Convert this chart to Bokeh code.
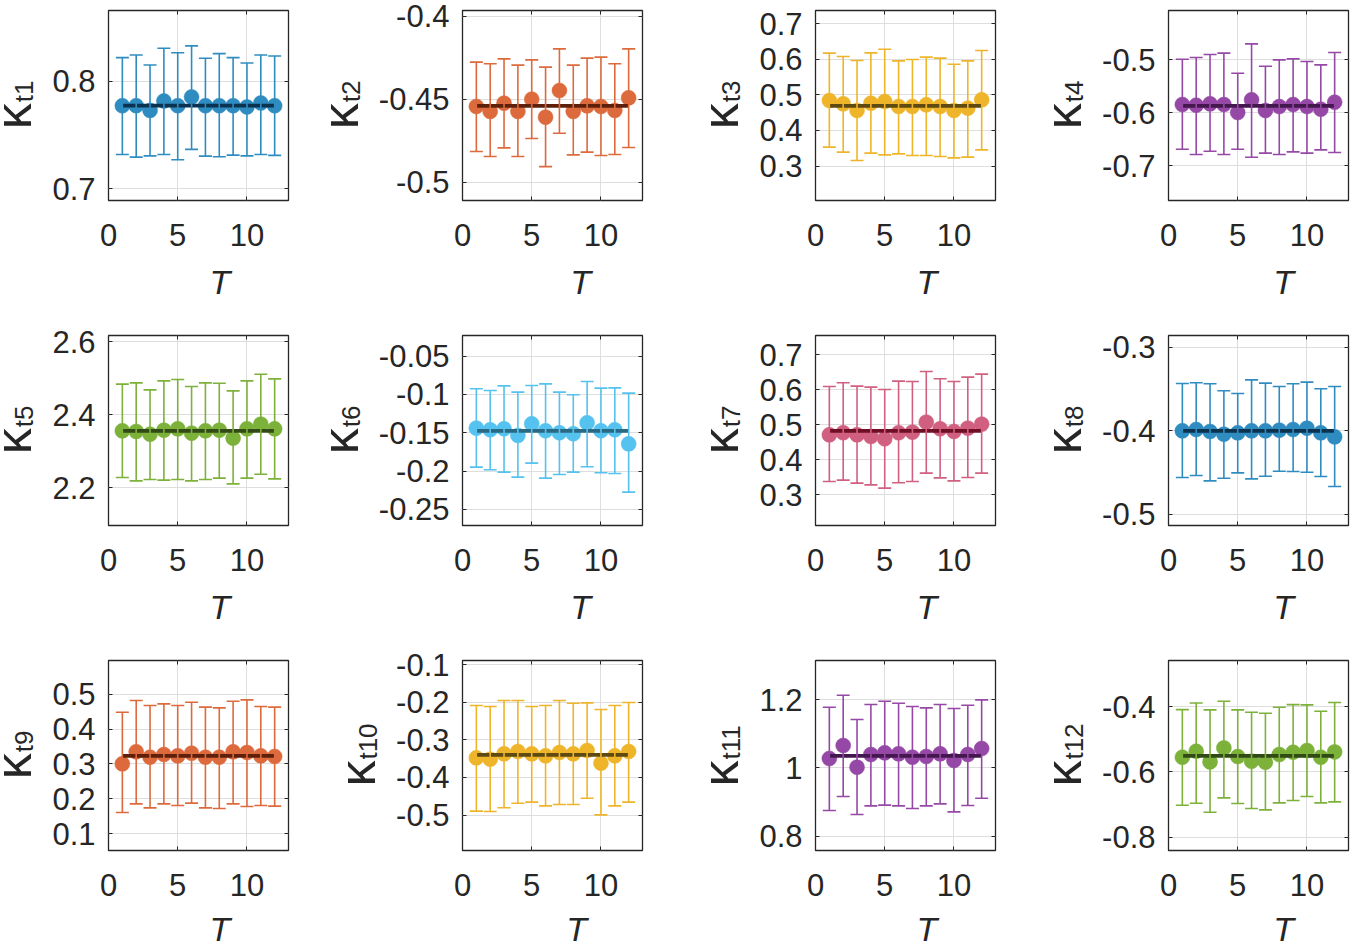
import math
from bokeh.plotting import figure
from bokeh.layouts import column, row
from bokeh.models import (ColumnDataSource, Whisker, TeeHead, FixedTicker,
                          CustomJSTickFormatter, Range1d, LinearAxis)
from bokeh.core.properties import value
from bokeh.embed import file_html
from bokeh.resources import INLINE

# ---------------- data ----------------
T = [1, 2, 3, 4, 5, 6, 7, 8, 9, 10, 11, 12]
x_ticks = [0, 5, 10]
x_lim = (0, 13)

k1_mean = [0.7773, 0.7773, 0.7729, 0.7817, 0.7773, 0.7854, 0.7773, 0.7773, 0.7773, 0.7761, 0.7798, 0.7773]
k1_hi = [0.8221, 0.8246, 0.8152, 0.8308, 0.8267, 0.8330, 0.8215, 0.8258, 0.8221, 0.8171, 0.8246, 0.8236]
k1_lo = [0.7319, 0.7294, 0.7306, 0.7319, 0.7269, 0.7366, 0.7303, 0.7297, 0.7313, 0.7306, 0.7319, 0.7310]

k2_mean = [-0.4544, -0.4574, -0.4524, -0.4574, -0.4500, -0.4608, -0.4448, -0.4574, -0.4540, -0.4544, -0.4568, -0.4492]
k2_hi = [-0.4277, -0.4287, -0.4257, -0.4295, -0.4263, -0.4307, -0.4197, -0.4295, -0.4253, -0.4247, -0.4287, -0.4197]
k2_lo = [-0.4815, -0.4845, -0.4793, -0.4845, -0.4737, -0.4906, -0.4705, -0.4835, -0.4819, -0.4839, -0.4833, -0.4791]

k3_mean = [0.4841, 0.4748, 0.4561, 0.4766, 0.4813, 0.4673, 0.4673, 0.4720, 0.4673, 0.4561, 0.4626, 0.4860]
k3_hi = [0.6169, 0.6075, 0.5963, 0.6178, 0.6281, 0.5954, 0.5991, 0.6057, 0.6029, 0.5860, 0.5954, 0.6244]
k3_lo = [0.3532, 0.3392, 0.3158, 0.3364, 0.3317, 0.3345, 0.3298, 0.3298, 0.3270, 0.3233, 0.3252, 0.3457]

k4_mean = [-0.5849, -0.5862, -0.5836, -0.5849, -0.6000, -0.5761, -0.5962, -0.5887, -0.5849, -0.5887, -0.5937, -0.5805]
k4_hi = [-0.4994, -0.4962, -0.4906, -0.4880, -0.5258, -0.4704, -0.5126, -0.5006, -0.4987, -0.5038, -0.5101, -0.4868]
k4_lo = [-0.6692, -0.6793, -0.6730, -0.6793, -0.6692, -0.6843, -0.6767, -0.6793, -0.6742, -0.6767, -0.6704, -0.6755]

k5_mean = [2.3561, 2.3543, 2.3469, 2.3579, 2.3616, 2.3497, 2.3561, 2.3579, 2.3360, 2.3616, 2.3744, 2.3616]
k5_hi = [2.4842, 2.4878, 2.4686, 2.4933, 2.4970, 2.4778, 2.4878, 2.4869, 2.4659, 2.4933, 2.5116, 2.4988]
k5_lo = [2.2280, 2.2188, 2.2225, 2.2207, 2.2225, 2.2188, 2.2225, 2.2262, 2.2106, 2.2262, 2.2371, 2.2243]

k6_mean = [-0.1439, -0.1461, -0.1448, -0.1535, -0.1383, -0.1474, -0.1500, -0.1513, -0.1370, -0.1474, -0.1461, -0.1644]
k6_hi = [-0.0926, -0.0948, -0.0887, -0.0969, -0.0882, -0.0861, -0.0969, -0.1004, -0.0830, -0.0917, -0.0913, -0.0982]
k6_lo = [-0.1948, -0.1983, -0.2013, -0.2079, -0.1896, -0.2092, -0.2044, -0.2013, -0.1944, -0.2022, -0.2031, -0.2274]

k7_mean = [0.4714, 0.4772, 0.4714, 0.4667, 0.4600, 0.4772, 0.4791, 0.5076, 0.4886, 0.4810, 0.4905, 0.5019]
k7_hi = [0.6095, 0.6200, 0.6104, 0.6076, 0.6009, 0.6247, 0.6238, 0.6523, 0.6314, 0.6238, 0.6361, 0.6447]
k7_lo = [0.3382, 0.3420, 0.3334, 0.3286, 0.3191, 0.3344, 0.3382, 0.3620, 0.3486, 0.3400, 0.3496, 0.3620]

k8_mean = [-0.4000, -0.3984, -0.4008, -0.4040, -0.4024, -0.4000, -0.4000, -0.3992, -0.3984, -0.3968, -0.4024, -0.4072]
k8_hi = [-0.3433, -0.3425, -0.3437, -0.3521, -0.3553, -0.3390, -0.3429, -0.3469, -0.3437, -0.3417, -0.3497, -0.3469]
k8_lo = [-0.4559, -0.4535, -0.4599, -0.4567, -0.4503, -0.4575, -0.4543, -0.4483, -0.4487, -0.4495, -0.4547, -0.4666]

k9_mean = [0.3000, 0.3345, 0.3191, 0.3268, 0.3230, 0.3306, 0.3191, 0.3191, 0.3345, 0.3325, 0.3230, 0.3211]
k9_hi = [0.4483, 0.4818, 0.4675, 0.4723, 0.4675, 0.4770, 0.4627, 0.4608, 0.4799, 0.4837, 0.4646, 0.4627]
k9_lo = [0.1603, 0.1852, 0.1737, 0.1852, 0.1804, 0.1871, 0.1737, 0.1718, 0.1852, 0.1775, 0.1804, 0.1785]

k10_mean = [-0.3478, -0.3513, -0.3372, -0.3310, -0.3372, -0.3425, -0.3336, -0.3372, -0.3283, -0.3620, -0.3425, -0.3310]
k10_hi = [-0.2088, -0.2115, -0.1956, -0.1956, -0.2115, -0.2088, -0.1956, -0.2027, -0.2018, -0.2195, -0.2088, -0.2009]
k10_lo = [-0.4894, -0.4903, -0.4805, -0.4682, -0.4655, -0.4752, -0.4717, -0.4717, -0.4549, -0.4991, -0.4752, -0.4655]

k11_mean = [1.0274, 1.0655, 1.0020, 1.0391, 1.0440, 1.0411, 1.0313, 1.0333, 1.0411, 1.0215, 1.0391, 1.0567]
k11_hi = [1.1780, 1.2132, 1.1418, 1.1858, 1.1956, 1.1897, 1.1800, 1.1760, 1.1858, 1.1741, 1.1839, 1.1995]
k11_lo = [0.8748, 0.9159, 0.8631, 0.8885, 0.8905, 0.8885, 0.8807, 0.8885, 0.8944, 0.8709, 0.8895, 0.9110]

k12_mean = [-0.5551, -0.5368, -0.5694, -0.5266, -0.5531, -0.5674, -0.5704, -0.5470, -0.5398, -0.5347, -0.5551, -0.5388]
k12_hi = [-0.4093, -0.3889, -0.4103, -0.3838, -0.4103, -0.4174, -0.4205, -0.4021, -0.3940, -0.3950, -0.4144, -0.3878]
k12_lo = [-0.7020, -0.6959, -0.7234, -0.6796, -0.6969, -0.7122, -0.7163, -0.6949, -0.6877, -0.6755, -0.6949, -0.6918]

# overall estimate (horizontal line) per parameter
k_overall = [0.7773, -0.4540, 0.4690, -0.5874, 2.3561, -0.1474,
             0.4829, -0.4000, 0.3230, -0.3398, 1.0352, -0.5510]

y_lims = [(0.689, 0.866), (-0.511, -0.3966), (0.2036, 0.7366), (-0.766, -0.4075),
          (2.0962, 2.6178), (-0.271, -0.023), (0.2125, 0.755), (-0.5133, -0.2859),
          (0.0512, 0.5967), (-0.5938, -0.0894), (0.7575, 1.315), (-0.8407, -0.259)]

y_ticks = [[0.7, 0.8], [-0.5, -0.45, -0.4], [0.3, 0.4, 0.5, 0.6, 0.7], [-0.7, -0.6, -0.5],
           [2.2, 2.4, 2.6], [-0.25, -0.2, -0.15, -0.1, -0.05], [0.3, 0.4, 0.5, 0.6, 0.7],
           [-0.5, -0.4, -0.3], [0.1, 0.2, 0.3, 0.4, 0.5], [-0.5, -0.4, -0.3, -0.2, -0.1],
           [0.8, 1.0, 1.2], [-0.8, -0.6, -0.4]]

y_symbol = "κ"
y_subscripts = ["t1", "t2", "t3", "t4", "t5", "t6", "t7", "t8", "t9", "t10", "t11", "t12"]
x_label = "T"

means = [k1_mean, k2_mean, k3_mean, k4_mean, k5_mean, k6_mean, k7_mean, k8_mean, k9_mean, k10_mean, k11_mean, k12_mean]
his = [k1_hi, k2_hi, k3_hi, k4_hi, k5_hi, k6_hi, k7_hi, k8_hi, k9_hi, k10_hi, k11_hi, k12_hi]
los = [k1_lo, k2_lo, k3_lo, k4_lo, k5_lo, k6_lo, k7_lo, k8_lo, k9_lo, k10_lo, k11_lo, k12_lo]

# ---------------- style ----------------
mark_colors = ["#2f8cc0", "#dd6a3d", "#efb52a", "#9548a5", "#7cb13a", "#55c2ef", "#d05f80"]
line_colors = ["#0b3350", "#5e200b", "#5f4a12", "#44184e", "#324a16", "#2a6983", "#6e0f25"]
FONT = "Liberation Sans"
TICK_PX = 31
AX_COLOR = "#262626"

ADV = {'0': .556, '1': .556, '2': .556, '3': .556, '4': .556, '5': .556, '6': .556,
       '7': .556, '8': .556, '9': .556, '.': .278, '-': .333, 't': .278}


def text_w(s, px):
    return sum(ADV.get(c, .556) for c in s) * px


def fmt(v):
    return ("%.6f" % v).rstrip("0").rstrip(".")


FRAME_W, FRAME_H = 180, 190
FRAME_LEFT = [108, 462, 815, 1168]
TOP_B = 10
BOT_B = 62           # room for x tick labels
ROW_H = [325, 325, 292]
Y_STANDOFF = 13
RIGHT_GAP = 4

formatter = CustomJSTickFormatter(code="return String(parseFloat(tick.toFixed(6)));")


def blank_fig(w, h):
    f = figure(width=w, height=h, x_range=Range1d(0, w), y_range=Range1d(0, h),
               output_backend="svg", toolbar_location=None, title=None,
               x_axis_type=None, y_axis_type=None, min_border=0)
    f.outline_line_color = None
    f.grid.visible = False
    f.background_fill_color = "white"
    f.border_fill_color = "white"
    return f


def hidden_axis(ticks):
    return LinearAxis(ticker=FixedTicker(ticks=ticks), major_label_text_font_size="1px",
                      major_label_text_color=None, major_tick_in=4, major_tick_out=0,
                      minor_tick_line_color=None, axis_line_color=None,
                      major_label_standoff=0, major_tick_line_color=AX_COLOR)


rows = []
for r in range(3):
    cells = []
    prev_right = 0
    for c in range(4):
        i = r * 4 + c
        mc = mark_colors[i % len(mark_colors)]
        lc = line_colors[i % len(line_colors)]

        tw = max(text_w(fmt(v), TICK_PX) for v in y_ticks[i])
        left_b = int(math.ceil(Y_STANDOFF + tw + 6))
        right_b = RIGHT_GAP if c < 3 else 1350 - FRAME_LEFT[c] - FRAME_W
        lab_w = FRAME_LEFT[c] - prev_right - left_b
        pw = left_b + FRAME_W + right_b
        ph = TOP_B + FRAME_H + BOT_B
        th = ROW_H[r] - ph
        prev_right = FRAME_LEFT[c] + FRAME_W + right_b

        p = figure(width=pw, height=ph, x_range=Range1d(*x_lim), y_range=Range1d(*y_lims[i]),
                   output_backend="svg", toolbar_location=None, title=None,
                   min_border_left=left_b, min_border_right=right_b,
                   min_border_top=TOP_B, min_border_bottom=BOT_B)
        p.background_fill_color = "white"
        p.border_fill_color = "white"
        p.outline_line_color = AX_COLOR
        p.outline_line_width = 1.3

        p.xaxis.ticker = FixedTicker(ticks=x_ticks)
        p.yaxis.ticker = FixedTicker(ticks=y_ticks[i])
        p.yaxis.formatter = formatter
        for ax in (p.xaxis[0], p.yaxis[0]):
            ax.axis_line_color = None
            ax.major_tick_in = 4
            ax.major_tick_out = 0
            ax.major_tick_line_color = AX_COLOR
            ax.minor_tick_line_color = None
            ax.major_label_text_font = FONT
            ax.major_label_text_font_size = "%dpx" % TICK_PX
            ax.major_label_text_color = AX_COLOR
        p.xaxis.major_label_standoff = 23
        p.yaxis.major_label_standoff = Y_STANDOFF

        p.xgrid.ticker = FixedTicker(ticks=x_ticks)
        p.ygrid.ticker = FixedTicker(ticks=y_ticks[i])
        p.grid.grid_line_color = "#dedede"
        p.grid.grid_line_width = 1

        p.add_layout(hidden_axis(x_ticks), "above")
        p.add_layout(hidden_axis(y_ticks[i]), "right")

        src = ColumnDataSource(data=dict(x=T, m=means[i], hi=his[i], lo=los[i]))
        wk = Whisker(base="x", upper="hi", lower="lo", source=src, dimension="height",
                     line_color=mc, line_width=1.6, level="glyph",
                     upper_head=TeeHead(size=13, line_color=mc, line_width=1.6),
                     lower_head=TeeHead(size=13, line_color=mc, line_width=1.6))
        p.add_layout(wk)
        p.scatter("x", "m", source=src, size=15, marker="circle",
                  fill_color=mc, line_color=mc, line_width=0.5)
        p.line(x=[T[0], T[-1]], y=[k_overall[i], k_overall[i]], line_color=lc, line_width=3.8)

        # y label strip (kappa with subscript), left of the tick labels
        L = blank_fig(lab_w, ROW_H[r])
        k_px, s_px = 52, 26
        Lk = 0.5 * k_px
        Ls = text_w(y_subscripts[i], s_px)
        yc = ROW_H[r] - TOP_B - FRAME_H / 2
        split = yc - (Lk + Ls) / 2 + Lk
        L.text(x=[lab_w - 33], y=[split], text=[y_symbol], angle=math.pi / 2,
               text_font=value(FONT), text_font_size="%dpx" % k_px,
               text_color=AX_COLOR, text_align="right", text_baseline="middle")
        L.text(x=[lab_w - 22], y=[split + 1], text=[y_subscripts[i]], angle=math.pi / 2,
               text_font=value(FONT), text_font_size="%dpx" % s_px,
               text_color=AX_COLOR, text_align="left", text_baseline="middle")

        # x label strip under the panel
        X = blank_fig(pw, th)
        X.text(x=[left_b + FRAME_W / 2], y=[max(th - 19, 14)], text=[x_label],
               text_font=value(FONT), text_font_size="34px", text_font_style="italic",
               text_color=AX_COLOR, text_align="center", text_baseline="middle")

        cells.append(row(L, column(p, X, spacing=0), spacing=0))
    rows.append(row(*cells, spacing=0))

layout = column(*rows, spacing=0)
open("out.html", "w").write(file_html(layout, INLINE))
